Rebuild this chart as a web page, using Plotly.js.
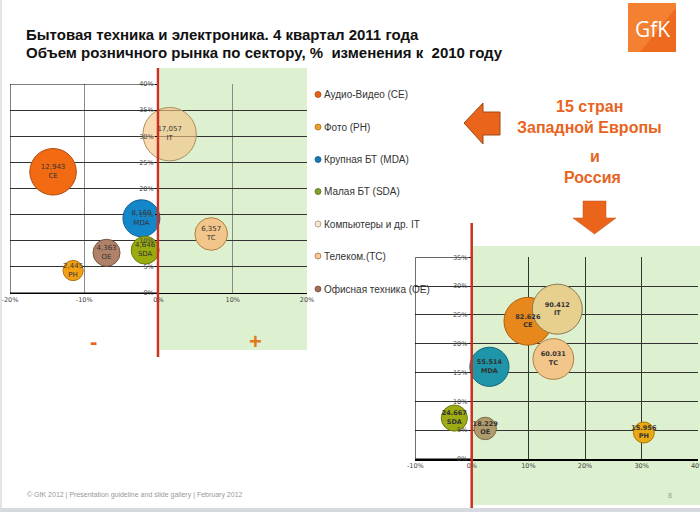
<!DOCTYPE html>
<html><head><meta charset="utf-8">
<script src="https://cdn.plot.ly/plotly-3.0.1.min.js"></script>
<style>html,body{margin:0;padding:0;background:#fff;overflow:hidden}#chart{width:700px;height:512px}</style>
</head><body><div id="chart"></div>
<script>
// ---- data ----
const categories = ['CE','PH','MDA','SDA','IT','TC','OE'];
const legendNames = ['Аудио-Видео (CE)','Фото (PH)','Крупная БТ (MDA)','Малая БТ (SDA)','Компьютеры и др. IT','Телеком.(TC)','Офисная техника (OE)'];
// Left chart: 15 Western European countries
const weX = [-14.2, -11.5, -2.3, -1.8, 1.5, 7.1, -7.0];
const weY = [23.2, 4.3, 14.3, 8.2, 30.4, 11.3, 7.7];
const weVolume = [12943, 2445, 8160, 4646, 17057, 6357, 4363];
const weLabels = ['12,943','2,445','8,160','4,646','17,057','6,357','4,363'];
// Right chart: Russia
const ruX = [9.9, 30.4, 3.1, -3.1, 15.1, 14.4, 2.35];
const ruY = [23.9, 4.6, 16.0, 7.1, 26.0, 17.35, 5.3];
const ruVolume = [82626, 15956, 55514, 24667, 90412, 60031, 18229];
const ruLabels = ['82.626','15.956','55.514','24.667','90.412','60.031','18.229'];
const xTicksLeft = [-20, -10, 0, 10, 20];
const xTicksRight = [-10, 0, 10, 20, 30, 40];

// ---- styles ----
const weColors = ['#F26A12','#F2A012','#1487CA','#9AAB10','rgba(246,196,130,0.62)','#F2C58A','#B0826A'];
const weLines  = ['#B04A10','#B07010','#0D5E90','#6A7A08','#A89060','#B08040','#7A5440'];
const ruColors = ['#E8871C','#E8A912','#1E95A8','#9CAC12','#E7D08E','#F2C58A','#B09B6C'];
const ruLines  = ['#A8600E','#A87808','#14687A','#6A780A','#8A7A50','#B08040','#7A6A48'];
const legendColors = ['#E2621E','#E8A030','#1878B0','#80A030','#F6E6D2','#F2C8A0','#A06E5A'];
const legendLines  = ['#B04A10','#B07010','#0D5E90','#5A7010','#A89070','#B07040','#7A5440'];

const W = 700, H = 512;
const px = x => x / W, py = y => 1 - y / H;
const tickFont = {family:'DejaVu Sans', size:6.5, color:'#444'};

const traces = [
  {type:'scatter', mode:'markers+text', x:weX, y:weY, xaxis:'x', yaxis:'y',
   text: weLabels.map((l,i)=>l+'<br>'+categories[i]), textposition:'middle center',
   textfont:{family:'DejaVu Sans', size:7, color:'#333'}, cliponaxis:false, hoverinfo:'none',
   marker:{size:weVolume, sizemode:'area', sizeref:11.96, color:weColors, opacity:1, line:{color:weLines, width:1}}},
  {type:'scatter', mode:'markers+text', x:ruX, y:ruY, xaxis:'x2', yaxis:'y2',
   text: ruLabels.map((l,i)=>'<b>'+l+'</b><br><b>'+categories[i]+'</b>'), textposition:'middle center',
   textfont:{family:'DejaVu Sans', size:6.5, color:'#333'}, cliponaxis:false, hoverinfo:'none',
   marker:{size:ruVolume, sizemode:'area', sizeref:72.3, color:ruColors, opacity:1, line:{color:ruLines, width:1}}}
];

function path(pts){ return 'M' + pts.map(p => px(p[0]) + ',' + py(p[1])).join(' L') + ' Z'; }

const shapes = [
  {type:'rect', xref:'paper', yref:'paper', x0:px(160), x1:px(307), y0:py(350), y1:py(68), fillcolor:'#DDF0CF', line:{width:0}, layer:'below'},
  {type:'rect', xref:'paper', yref:'paper', x0:px(473), x1:px(700), y0:py(505), y1:py(246), fillcolor:'#DDF0CF', line:{width:0}, layer:'below'},
  {type:'rect', xref:'x', yref:'y', x0:-20, x1:0, y0:0, y1:40, line:{color:'#000', width:1}, layer:'between'},
  {type:'rect', xref:'x2', yref:'y2', x0:-10, x1:0, y0:0, y1:35, line:{color:'#000', width:1}, layer:'between'},
  {type:'line', xref:'paper', yref:'paper', x0:px(158), x1:px(158), y0:py(357), y1:py(68), line:{color:'#C8321E', width:2.5}, layer:'above'},
  {type:'line', xref:'paper', yref:'paper', x0:px(471.7), x1:px(471.7), y0:py(512), y1:py(223), line:{color:'#C8321E', width:2.5}, layer:'above'},
  {type:'path', xref:'paper', yref:'paper', path:path([[464,123],[483,103],[483,112],[500,112],[500,135],[483,135],[483,144]]), fillcolor:'#EA641C', line:{color:'#9A4A14', width:1}},
  {type:'path', xref:'paper', yref:'paper', path:path([[583,201],[606,201],[606,218],[616,218],[594.5,234],[573,218],[583,218]]), fillcolor:'#EA641C', line:{color:'#C05018', width:0.5}},
  {type:'rect', xref:'paper', yref:'paper', x0:px(628), x1:px(676), y0:py(52), y1:py(3), fillcolor:'#EE6A1E', line:{width:0}},
  {type:'path', xref:'paper', yref:'paper', path:path([[628,3],[676,3],[676,8],[640,52],[628,52]]), fillcolor:'rgba(255,170,90,0.35)', line:{width:0}},
  {type:'line', xref:'paper', yref:'paper', x0:px(1), x1:px(1), y0:0, y1:1, line:{color:'#C8C8C8', width:1}},
  {type:'rect', xref:'paper', yref:'paper', x0:0, x1:1, y0:0, y1:py(508), fillcolor:'#D6DADE', line:{width:0}}
];

const legendY = [94.5, 127, 159.5, 191.5, 224, 256, 289];
legendNames.forEach((n,i)=>{
  shapes.push({type:'circle', xref:'paper', yref:'paper', xsizemode:'pixel', ysizemode:'pixel',
    xanchor:px(318), yanchor:py(legendY[i]), x0:-3, x1:3, y0:-3, y1:3,
    fillcolor:legendColors[i], line:{color:legendLines[i], width:0.8}});
});

const orange = '#E8641E';
const annotations = [
  {text:'<b>Бытовая техника и электроника. 4 квартал 2011 года</b>', x:px(24), y:py(34), xanchor:'left', yanchor:'middle', font:{family:'Liberation Sans, Arial', size:15, color:'#111'}},
  {text:'<b>Объем розничного рынка по сектору, %  изменения к  2010 году</b>', x:px(24), y:py(52), xanchor:'left', yanchor:'middle', font:{family:'Liberation Sans, Arial', size:15, color:'#111'}},
  {text:'<b>15 стран</b>', x:px(589), y:py(106), xanchor:'center', yanchor:'middle', font:{family:'Liberation Sans, Arial', size:16, color:orange}},
  {text:'<b>Западной Европы</b>', x:px(589), y:py(127), xanchor:'center', yanchor:'middle', font:{family:'Liberation Sans, Arial', size:16, color:orange}},
  {text:'<b>и</b>', x:px(595), y:py(156), xanchor:'center', yanchor:'middle', font:{family:'Liberation Sans, Arial', size:16, color:orange}},
  {text:'<b>Россия</b>', x:px(592), y:py(177), xanchor:'center', yanchor:'middle', font:{family:'Liberation Sans, Arial', size:16, color:orange}},
  {text:'<b>-</b>', x:px(93), y:py(341), xanchor:'center', yanchor:'middle', font:{family:'Liberation Sans, Arial', size:22, color:orange}},
  {text:'<b>+</b>', x:px(255), y:py(341), xanchor:'center', yanchor:'middle', font:{family:'Liberation Sans, Arial', size:22, color:'#DF7A22'}},
  {text:'GfK', x:px(652), y:py(29), xanchor:'center', yanchor:'middle', font:{family:'Open Sans, Liberation Sans', size:21, color:'#fff'}},
  {text:'© GfK 2012 | Presentation guideline and slide gallery | February 2012', x:px(25), y:py(495), xanchor:'left', yanchor:'middle', font:{family:'Liberation Sans, Arial', size:7, color:'#999'}},
  {text:'8', x:px(670), y:py(495), xanchor:'center', yanchor:'middle', font:{family:'Liberation Sans, Arial', size:7, color:'#999'}}
];
legendNames.forEach((n,i)=>{
  annotations.push({text:n, x:px(321.5), y:py(legendY[i]), xanchor:'left', yanchor:'middle', showarrow:false,
    font:{family:'Liberation Sans, Arial', size:10, color:'#333'}});
});
annotations.forEach(a=>{a.xref='paper'; a.yref='paper'; a.showarrow=false;});

const layout = {
  width:W, height:H, margin:{l:0,r:0,t:0,b:0}, paper_bgcolor:'#fff', plot_bgcolor:'rgba(0,0,0,0)', showlegend:false,
  xaxis:{domain:[px(10),px(307)], range:[-20,20], tickvals:xTicksLeft, ticktext:xTicksLeft.map(v=>v+'%'),
    showgrid:true, gridcolor:'#8A8A8A', gridwidth:1, zeroline:false, showline:true, linecolor:'#000', linewidth:1,
    ticks:'', tickfont:tickFont, anchor:'y', fixedrange:true, ticklabeloverflow:'allow'},
  yaxis:{domain:[py(293),py(84)], range:[0,40], dtick:5, ticksuffix:'%', anchor:'free', position:px(158),
    showgrid:true, gridcolor:'#333', gridwidth:1, zeroline:false, showline:false, ticks:'outside', ticklen:3, tickcolor:'#000',
    tickfont:tickFont, fixedrange:true},
  xaxis2:{domain:[px(415.3),px(698.3)], range:[-10,40.02], tickvals:xTicksRight, ticktext:xTicksRight.map(v=>v+'%'),
    showgrid:true, gridcolor:'#2A3A2A', gridwidth:1, zeroline:false, showline:true, linecolor:'#000', linewidth:1.5,
    ticks:'', tickfont:tickFont, anchor:'y2', fixedrange:true, ticklabeloverflow:'allow'},
  yaxis2:{domain:[py(459),py(257.3)], range:[0,35], dtick:5, ticksuffix:'%', anchor:'free', position:px(471.7),
    showgrid:true, gridcolor:'#333', gridwidth:1, zeroline:false, showline:false, ticks:'outside', ticklen:3, tickcolor:'#000',
    tickfont:tickFont, fixedrange:true},
  shapes:shapes, annotations:annotations
};

Plotly.newPlot('chart', traces, layout, {displayModeBar:false, staticPlot:true});
</script>
</body></html>
